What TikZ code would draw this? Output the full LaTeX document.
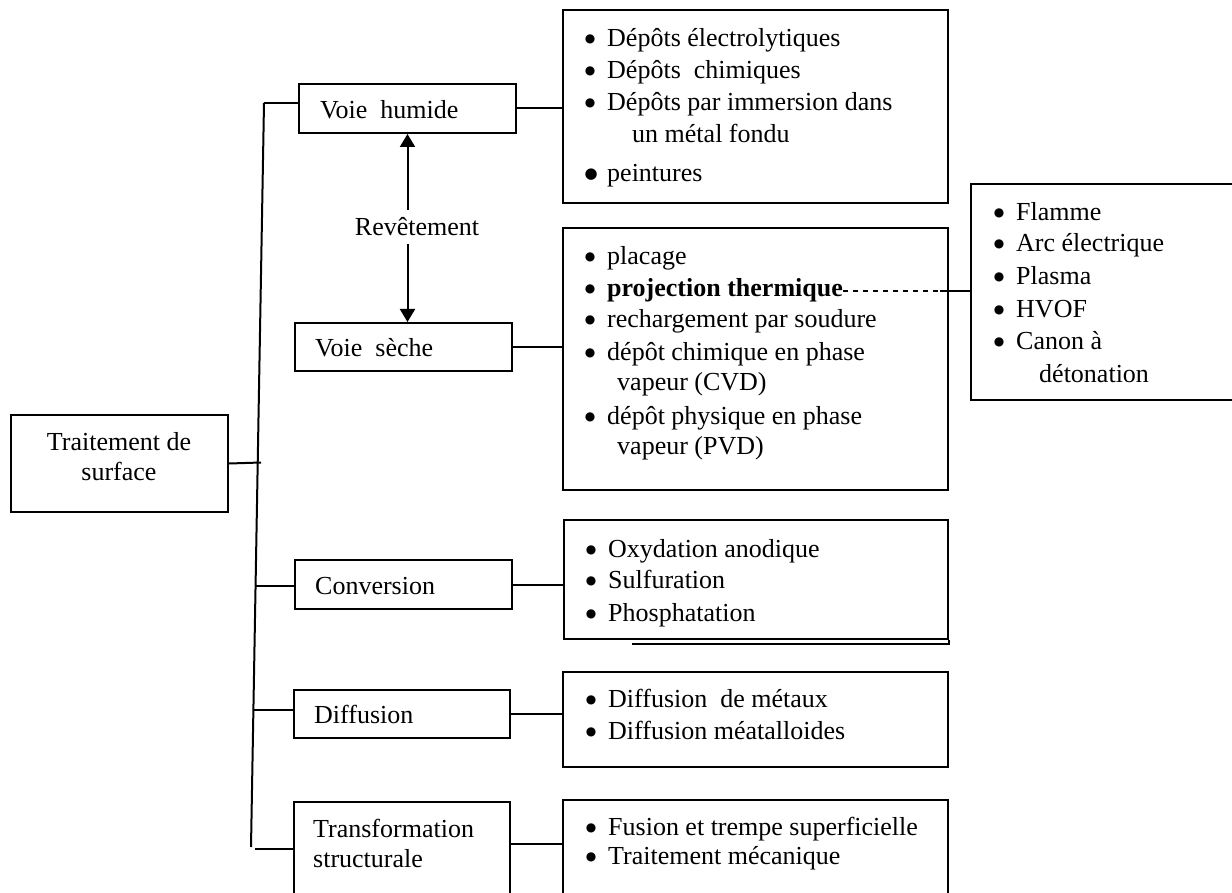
\documentclass[tikz,border=0pt]{standalone}
\usepackage{fontspec}
\setmainfont{Liberation Serif}
\newfontfamily\dvs{DejaVu Sans}
\usetikzlibrary{arrows.meta}
\newcommand\fsz{\fontsize{26}{30}\selectfont}
\newcommand\bu{\llap{\makebox[10pt][c]{\raisebox{4pt}{\dvs\fontsize{12}{12}\selectfont ●}}\hspace{12pt}}}
\newcommand\bigbu{\llap{\makebox[12pt][c]{\raisebox{3.5pt}{\dvs\fontsize{15}{15}\selectfont ●}}\hspace{10pt}}}
\begin{document}
\begin{tikzpicture}[x=1pt,y=1pt,
  box/.style={draw, line width=2pt, inner sep=0pt, anchor=north west},
  lbl/.style={anchor=base west, inner sep=0pt, font=\fsz},
  link/.style={line width=2pt},
  tip/.style={-{Triangle[length=13pt,width=15pt]}, line width=2pt}]
\useasboundingbox (0,0) rectangle (1232,-893);

% ---- left boxes
\node[box, minimum width=217pt, minimum height=97pt] (ts) at (10,-414) {};
\node[anchor=base, inner sep=0pt, font=\fsz] (ts1) at (119,-450) {Traitement de};
\node[anchor=base, inner sep=0pt, font=\fsz] (ts2) at (119,-480) {surface};

\node[box, minimum width=217pt, minimum height=49pt] (vh) at (298,-83) {};
\node[lbl] (vhT) at (320,-119) {Voie\ \ humide};

\node[box, minimum width=217pt, minimum height=48pt] (vs) at (294,-322) {};
\node[lbl] (vsT) at (315,-357) {Voie\ \ sèche};

\node[box, minimum width=217pt, minimum height=49pt] (conv) at (294,-559) {};
\node[lbl] (convT) at (315,-594) {Conversion};

\node[box, minimum width=216pt, minimum height=48pt] (diff) at (293,-689) {};
\node[lbl] (diffT) at (314,-723) {Diffusion};

\node[box, minimum width=216pt, minimum height=130pt] (tr) at (293,-801) {};
\node[lbl] (trT1) at (313,-837) {Transformation};
\node[lbl] (trT2) at (313,-867) {structurale};

% ---- Revetement
\node[anchor=base, inner sep=0pt, font=\fsz] (rev) at (417,-236) {Revêtement};
\coordinate (ra) at (408,-210);
\coordinate (rb) at (408,-244);
\draw[tip] (vh.south |- ra) -- (vh.south);
\draw[tip] (vh.south |- rb) -- (vh.south |- vs.north);

% ---- list boxes
\node[box, minimum width=385pt, minimum height=193pt] (b1) at (562,-9) {};
\node[lbl] (b1a) at (607,-47) {\bu Dépôts électrolytiques};
\node[lbl] (b1b) at (607,-79) {\bu Dépôts\ \ chimiques};
\node[lbl] (b1c) at (607,-111) {\bu Dépôts par immersion dans};
\node[lbl] (b1d) at (632,-143) {un métal fondu};
\node[lbl] (b1e) at (607,-182) {\bigbu peintures};

\node[box, minimum width=385pt, minimum height=262pt] (b2) at (562,-227) {};
\node[lbl] (b2a) at (607,-265) {\bu placage};
\node[lbl] (proj) at (607,-297) {\bu \textbf{projection thermique}};
\node[lbl] (b2c) at (607,-328) {\bu rechargement par soudure};
\node[lbl] (b2d) at (607,-361) {\bu dépôt chimique en phase};
\node[lbl] (b2e) at (617,-391) {vapeur (CVD)};
\node[lbl] (b2f) at (607,-424) {\bu dépôt physique en phase};
\node[lbl] (b2g) at (617,-454) {vapeur (PVD)};

\node[box, minimum width=280pt, minimum height=216pt] (b3) at (970,-183) {};
\node[lbl] (b3a) at (1016,-221) {\bu Flamme};
\node[lbl] (b3b) at (1016,-252) {\bu Arc électrique};
\node[lbl] (b3c) at (1016,-285) {\bu Plasma};
\node[lbl] (b3d) at (1016,-318) {\bu HVOF};
\node[lbl] (b3e) at (1016,-350) {\bu Canon à};
\node[lbl] (b3f) at (1039,-382) {détonation};

\node[box, minimum width=384pt, minimum height=119pt] (b4) at (563,-519) {};
\node[lbl] (b4a) at (608,-557) {\bu Oxydation anodique};
\node[lbl] (b4b) at (608,-588) {\bu Sulfuration};
\node[lbl] (b4c) at (608,-621) {\bu Phosphatation};
\draw[line width=2pt] (b4.south east) -- ++(0,-4) -- ++(-317,0);

\node[box, minimum width=385pt, minimum height=95pt] (b5) at (562,-671) {};
\node[lbl] (b5a) at (608,-707) {\bu Diffusion\ \ de métaux};
\node[lbl] (b5b) at (608,-739) {\bu Diffusion méatalloides};

\node[box, minimum width=385pt, minimum height=130pt] (b6) at (562,-799) {};
\node[lbl] (b6a) at (608,-835) {\bu Fusion et trempe superficielle};
\node[lbl] (b6b) at (608,-864) {\bu Traitement mécanique};

% ---- trunk and branches
\coordinate (tTop) at (264,-103);
\coordinate (tBot) at (251,-847);
\coordinate (j0) at (261,-462.5);
\coordinate (j2) at (255.6,-586);
\coordinate (j3) at (253.8,-710);
\coordinate (j4) at (255,-849);
\coordinate (j5) at (509,-844);
\draw[link] (tTop) -- (tBot);
\draw[link] (tTop) -- (tTop -| vh.west);
\draw[link] (ts.east) -- (j0);
\draw[link] (j2) -- (j2 -| conv.west);
\draw[link] (j3) -- (j3 -| diff.west);
\draw[link] (j4) -- (j4 -| tr.west);

\draw[link] (vh.east) -- (vh.east -| b1.west);
\draw[link] (vs.east) -- (vs.east -| b2.west);
\draw[link] (conv.east) -- (conv.east -| b4.west);
\draw[link] (diff.east) -- (diff.east -| b5.west);
\draw[link] (tr.east |- j5) -- (b6.west |- j5);

% ---- projection thermique link
\coordinate (dj) at (940,-292);
\draw[line width=1.6pt, dash pattern=on 5pt off 5pt] (proj.east) -- (proj.east -| dj);
\draw[link] (proj.east -| dj) -- (proj.east -| b3.west);
\end{tikzpicture}
\end{document}
